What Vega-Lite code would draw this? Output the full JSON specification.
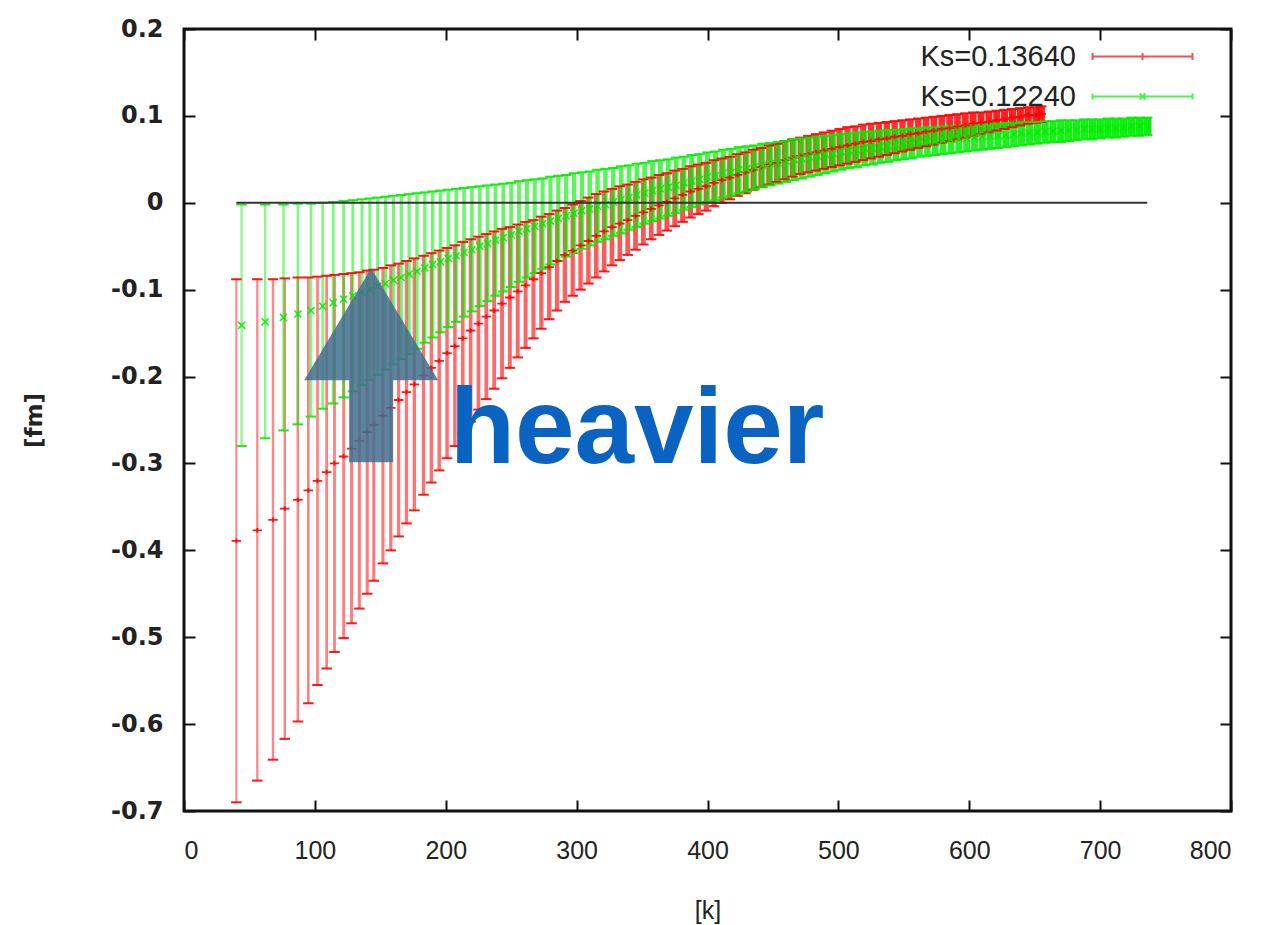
{
"$schema": "https://vega.github.io/schema/vega-lite/v6.json",
"width": 1047, "height": 782,
"autosize": {"type": "none"},
"padding": {"left": 184, "top": 29, "right": 37, "bottom": 114},
"background": "white",
"config": {
  "view": {"stroke": "#111", "strokeWidth": 3},
  "axis": {"grid": false, "domain": false, "tickColor": "#111", "tickWidth": 2, "tickSize": -11, "labelColor": "#222", "titleColor": "#222"}
},
"datasets": {
"pts": [
{"s":"Ks=0.13640","k":40,"v":-0.389,"lo":-0.69,"hi":-0.088},
{"s":"Ks=0.13640","k":56,"v":-0.377,"lo":-0.665,"hi":-0.088},
{"s":"Ks=0.13640","k":68,"v":-0.365,"lo":-0.641,"hi":-0.088},
{"s":"Ks=0.13640","k":77,"v":-0.352,"lo":-0.617,"hi":-0.087},
{"s":"Ks=0.13640","k":87,"v":-0.342,"lo":-0.597,"hi":-0.086},
{"s":"Ks=0.13640","k":95,"v":-0.331,"lo":-0.576,"hi":-0.086},
{"s":"Ks=0.13640","k":102,"v":-0.32,"lo":-0.555,"hi":-0.085},
{"s":"Ks=0.13640","k":109,"v":-0.31,"lo":-0.536,"hi":-0.084},
{"s":"Ks=0.13640","k":115,"v":-0.3,"lo":-0.517,"hi":-0.083},
{"s":"Ks=0.13640","k":122,"v":-0.292,"lo":-0.501,"hi":-0.082},
{"s":"Ks=0.13640","k":128,"v":-0.283,"lo":-0.484,"hi":-0.081},
{"s":"Ks=0.13640","k":134,"v":-0.274,"lo":-0.467,"hi":-0.08},
{"s":"Ks=0.13640","k":140,"v":-0.264,"lo":-0.45,"hi":-0.078},
{"s":"Ks=0.13640","k":145,"v":-0.256,"lo":-0.435,"hi":-0.077},
{"s":"Ks=0.13640","k":152,"v":-0.245,"lo":-0.415,"hi":-0.075},
{"s":"Ks=0.13640","k":158,"v":-0.236,"lo":-0.4,"hi":-0.072},
{"s":"Ks=0.13640","k":164,"v":-0.227,"lo":-0.384,"hi":-0.07},
{"s":"Ks=0.13640","k":170,"v":-0.218,"lo":-0.369,"hi":-0.067},
{"s":"Ks=0.13640","k":176,"v":-0.209,"lo":-0.354,"hi":-0.064},
{"s":"Ks=0.13640","k":183,"v":-0.199,"lo":-0.336,"hi":-0.061},
{"s":"Ks=0.13640","k":189,"v":-0.19,"lo":-0.322,"hi":-0.058},
{"s":"Ks=0.13640","k":195,"v":-0.182,"lo":-0.308,"hi":-0.055},
{"s":"Ks=0.13640","k":201,"v":-0.173,"lo":-0.294,"hi":-0.052},
{"s":"Ks=0.13640","k":207,"v":-0.165,"lo":-0.28,"hi":-0.049},
{"s":"Ks=0.13640","k":213,"v":-0.156,"lo":-0.266,"hi":-0.045},
{"s":"Ks=0.13640","k":219,"v":-0.147,"lo":-0.252,"hi":-0.042},
{"s":"Ks=0.13640","k":225,"v":-0.139,"lo":-0.238,"hi":-0.039},
{"s":"Ks=0.13640","k":231,"v":-0.131,"lo":-0.226,"hi":-0.036},
{"s":"Ks=0.13640","k":237,"v":-0.124,"lo":-0.214,"hi":-0.033},
{"s":"Ks=0.13640","k":243,"v":-0.116,"lo":-0.202,"hi":-0.03},
{"s":"Ks=0.13640","k":249,"v":-0.109,"lo":-0.19,"hi":-0.028},
{"s":"Ks=0.13640","k":255,"v":-0.102,"lo":-0.178,"hi":-0.025},
{"s":"Ks=0.13640","k":261,"v":-0.095,"lo":-0.167,"hi":-0.022},
{"s":"Ks=0.13640","k":267,"v":-0.088,"lo":-0.156,"hi":-0.02},
{"s":"Ks=0.13640","k":273,"v":-0.081,"lo":-0.145,"hi":-0.016},
{"s":"Ks=0.13640","k":279,"v":-0.074,"lo":-0.134,"hi":-0.013},
{"s":"Ks=0.13640","k":285,"v":-0.067,"lo":-0.124,"hi":-0.009},
{"s":"Ks=0.13640","k":291,"v":-0.06,"lo":-0.114,"hi":-0.006},
{"s":"Ks=0.13640","k":297,"v":-0.055,"lo":-0.107,"hi":-0.002},
{"s":"Ks=0.13640","k":303,"v":-0.049,"lo":-0.1,"hi":0.002},
{"s":"Ks=0.13640","k":309,"v":-0.044,"lo":-0.093,"hi":0.006},
{"s":"Ks=0.13640","k":315,"v":-0.038,"lo":-0.086,"hi":0.01},
{"s":"Ks=0.13640","k":321,"v":-0.033,"lo":-0.079,"hi":0.013},
{"s":"Ks=0.13640","k":327,"v":-0.028,"lo":-0.072,"hi":0.016},
{"s":"Ks=0.13640","k":333,"v":-0.024,"lo":-0.066,"hi":0.019},
{"s":"Ks=0.13640","k":339,"v":-0.02,"lo":-0.06,"hi":0.021},
{"s":"Ks=0.13640","k":345,"v":-0.015,"lo":-0.054,"hi":0.024},
{"s":"Ks=0.13640","k":351,"v":-0.011,"lo":-0.048,"hi":0.027},
{"s":"Ks=0.13640","k":357,"v":-0.007,"lo":-0.042,"hi":0.029},
{"s":"Ks=0.13640","k":363,"v":-0.003,"lo":-0.037,"hi":0.032},
{"s":"Ks=0.13640","k":369,"v":0.001,"lo":-0.032,"hi":0.034},
{"s":"Ks=0.13640","k":375,"v":0.005,"lo":-0.027,"hi":0.037},
{"s":"Ks=0.13640","k":381,"v":0.009,"lo":-0.022,"hi":0.039},
{"s":"Ks=0.13640","k":387,"v":0.013,"lo":-0.017,"hi":0.042},
{"s":"Ks=0.13640","k":393,"v":0.016,"lo":-0.013,"hi":0.044},
{"s":"Ks=0.13640","k":399,"v":0.019,"lo":-0.009,"hi":0.046},
{"s":"Ks=0.13640","k":405,"v":0.023,"lo":-0.004,"hi":0.049},
{"s":"Ks=0.13640","k":411,"v":0.026,"lo":0.0,"hi":0.051},
{"s":"Ks=0.13640","k":417,"v":0.029,"lo":0.004,"hi":0.053},
{"s":"Ks=0.13640","k":423,"v":0.032,"lo":0.008,"hi":0.056},
{"s":"Ks=0.13640","k":429,"v":0.035,"lo":0.011,"hi":0.058},
{"s":"Ks=0.13640","k":435,"v":0.038,"lo":0.015,"hi":0.061},
{"s":"Ks=0.13640","k":441,"v":0.041,"lo":0.018,"hi":0.063},
{"s":"Ks=0.13640","k":447,"v":0.044,"lo":0.021,"hi":0.066},
{"s":"Ks=0.13640","k":453,"v":0.046,"lo":0.024,"hi":0.068},
{"s":"Ks=0.13640","k":459,"v":0.049,"lo":0.027,"hi":0.071},
{"s":"Ks=0.13640","k":465,"v":0.052,"lo":0.03,"hi":0.073},
{"s":"Ks=0.13640","k":471,"v":0.054,"lo":0.033,"hi":0.075},
{"s":"Ks=0.13640","k":477,"v":0.056,"lo":0.035,"hi":0.077},
{"s":"Ks=0.13640","k":483,"v":0.058,"lo":0.037,"hi":0.079},
{"s":"Ks=0.13640","k":489,"v":0.06,"lo":0.039,"hi":0.081},
{"s":"Ks=0.13640","k":495,"v":0.062,"lo":0.041,"hi":0.083},
{"s":"Ks=0.13640","k":501,"v":0.064,"lo":0.043,"hi":0.085},
{"s":"Ks=0.13640","k":507,"v":0.066,"lo":0.045,"hi":0.087},
{"s":"Ks=0.13640","k":513,"v":0.068,"lo":0.047,"hi":0.088},
{"s":"Ks=0.13640","k":519,"v":0.07,"lo":0.049,"hi":0.09},
{"s":"Ks=0.13640","k":525,"v":0.071,"lo":0.051,"hi":0.091},
{"s":"Ks=0.13640","k":531,"v":0.073,"lo":0.053,"hi":0.092},
{"s":"Ks=0.13640","k":537,"v":0.074,"lo":0.055,"hi":0.093},
{"s":"Ks=0.13640","k":543,"v":0.076,"lo":0.057,"hi":0.094},
{"s":"Ks=0.13640","k":549,"v":0.077,"lo":0.059,"hi":0.095},
{"s":"Ks=0.13640","k":555,"v":0.079,"lo":0.061,"hi":0.096},
{"s":"Ks=0.13640","k":561,"v":0.08,"lo":0.063,"hi":0.097},
{"s":"Ks=0.13640","k":567,"v":0.082,"lo":0.065,"hi":0.098},
{"s":"Ks=0.13640","k":573,"v":0.083,"lo":0.067,"hi":0.099},
{"s":"Ks=0.13640","k":579,"v":0.085,"lo":0.069,"hi":0.1},
{"s":"Ks=0.13640","k":585,"v":0.086,"lo":0.071,"hi":0.101},
{"s":"Ks=0.13640","k":591,"v":0.088,"lo":0.073,"hi":0.102},
{"s":"Ks=0.13640","k":597,"v":0.089,"lo":0.075,"hi":0.103},
{"s":"Ks=0.13640","k":603,"v":0.091,"lo":0.077,"hi":0.104},
{"s":"Ks=0.13640","k":609,"v":0.092,"lo":0.079,"hi":0.104},
{"s":"Ks=0.13640","k":615,"v":0.093,"lo":0.081,"hi":0.105},
{"s":"Ks=0.13640","k":621,"v":0.095,"lo":0.083,"hi":0.106},
{"s":"Ks=0.13640","k":627,"v":0.096,"lo":0.085,"hi":0.107},
{"s":"Ks=0.13640","k":633,"v":0.098,"lo":0.087,"hi":0.108},
{"s":"Ks=0.13640","k":639,"v":0.099,"lo":0.089,"hi":0.109},
{"s":"Ks=0.13640","k":645,"v":0.101,"lo":0.091,"hi":0.11},
{"s":"Ks=0.13640","k":651,"v":0.101,"lo":0.092,"hi":0.11},
{"s":"Ks=0.13640","k":655,"v":0.102,"lo":0.093,"hi":0.111},
{"s":"Ks=0.12240","k":44,"v":-0.141,"lo":-0.28,"hi":-0.002},
{"s":"Ks=0.12240","k":62,"v":-0.137,"lo":-0.271,"hi":-0.002},
{"s":"Ks=0.12240","k":76,"v":-0.132,"lo":-0.262,"hi":-0.002},
{"s":"Ks=0.12240","k":87,"v":-0.128,"lo":-0.255,"hi":-0.001},
{"s":"Ks=0.12240","k":97,"v":-0.124,"lo":-0.246,"hi":-0.001},
{"s":"Ks=0.12240","k":106,"v":-0.119,"lo":-0.237,"hi":0.0},
{"s":"Ks=0.12240","k":114,"v":-0.115,"lo":-0.231,"hi":0.001},
{"s":"Ks=0.12240","k":122,"v":-0.111,"lo":-0.224,"hi":0.002},
{"s":"Ks=0.12240","k":129,"v":-0.107,"lo":-0.217,"hi":0.003},
{"s":"Ks=0.12240","k":136,"v":-0.103,"lo":-0.21,"hi":0.004},
{"s":"Ks=0.12240","k":142,"v":-0.1,"lo":-0.204,"hi":0.005},
{"s":"Ks=0.12240","k":148,"v":-0.096,"lo":-0.198,"hi":0.006},
{"s":"Ks=0.12240","k":154,"v":-0.093,"lo":-0.192,"hi":0.007},
{"s":"Ks=0.12240","k":160,"v":-0.089,"lo":-0.186,"hi":0.008},
{"s":"Ks=0.12240","k":166,"v":-0.086,"lo":-0.18,"hi":0.009},
{"s":"Ks=0.12240","k":172,"v":-0.082,"lo":-0.174,"hi":0.01},
{"s":"Ks=0.12240","k":178,"v":-0.079,"lo":-0.168,"hi":0.011},
{"s":"Ks=0.12240","k":184,"v":-0.075,"lo":-0.161,"hi":0.012},
{"s":"Ks=0.12240","k":190,"v":-0.071,"lo":-0.155,"hi":0.013},
{"s":"Ks=0.12240","k":196,"v":-0.068,"lo":-0.149,"hi":0.014},
{"s":"Ks=0.12240","k":202,"v":-0.064,"lo":-0.143,"hi":0.015},
{"s":"Ks=0.12240","k":208,"v":-0.061,"lo":-0.137,"hi":0.016},
{"s":"Ks=0.12240","k":214,"v":-0.057,"lo":-0.131,"hi":0.017},
{"s":"Ks=0.12240","k":220,"v":-0.054,"lo":-0.125,"hi":0.018},
{"s":"Ks=0.12240","k":226,"v":-0.05,"lo":-0.119,"hi":0.019},
{"s":"Ks=0.12240","k":232,"v":-0.047,"lo":-0.113,"hi":0.02},
{"s":"Ks=0.12240","k":238,"v":-0.043,"lo":-0.107,"hi":0.021},
{"s":"Ks=0.12240","k":244,"v":-0.04,"lo":-0.102,"hi":0.022},
{"s":"Ks=0.12240","k":250,"v":-0.037,"lo":-0.097,"hi":0.023},
{"s":"Ks=0.12240","k":256,"v":-0.033,"lo":-0.091,"hi":0.025},
{"s":"Ks=0.12240","k":262,"v":-0.03,"lo":-0.086,"hi":0.026},
{"s":"Ks=0.12240","k":268,"v":-0.027,"lo":-0.081,"hi":0.027},
{"s":"Ks=0.12240","k":274,"v":-0.024,"lo":-0.076,"hi":0.028},
{"s":"Ks=0.12240","k":280,"v":-0.021,"lo":-0.071,"hi":0.03},
{"s":"Ks=0.12240","k":286,"v":-0.018,"lo":-0.067,"hi":0.031},
{"s":"Ks=0.12240","k":292,"v":-0.015,"lo":-0.062,"hi":0.032},
{"s":"Ks=0.12240","k":298,"v":-0.012,"lo":-0.058,"hi":0.034},
{"s":"Ks=0.12240","k":304,"v":-0.009,"lo":-0.053,"hi":0.035},
{"s":"Ks=0.12240","k":310,"v":-0.007,"lo":-0.049,"hi":0.036},
{"s":"Ks=0.12240","k":316,"v":-0.004,"lo":-0.045,"hi":0.038},
{"s":"Ks=0.12240","k":322,"v":-0.002,"lo":-0.042,"hi":0.039},
{"s":"Ks=0.12240","k":328,"v":0.001,"lo":-0.038,"hi":0.04},
{"s":"Ks=0.12240","k":334,"v":0.004,"lo":-0.035,"hi":0.042},
{"s":"Ks=0.12240","k":340,"v":0.006,"lo":-0.031,"hi":0.043},
{"s":"Ks=0.12240","k":346,"v":0.009,"lo":-0.028,"hi":0.045},
{"s":"Ks=0.12240","k":352,"v":0.011,"lo":-0.024,"hi":0.046},
{"s":"Ks=0.12240","k":358,"v":0.014,"lo":-0.021,"hi":0.048},
{"s":"Ks=0.12240","k":364,"v":0.016,"lo":-0.018,"hi":0.049},
{"s":"Ks=0.12240","k":370,"v":0.018,"lo":-0.015,"hi":0.05},
{"s":"Ks=0.12240","k":376,"v":0.02,"lo":-0.012,"hi":0.052},
{"s":"Ks=0.12240","k":382,"v":0.023,"lo":-0.008,"hi":0.053},
{"s":"Ks=0.12240","k":388,"v":0.025,"lo":-0.005,"hi":0.055},
{"s":"Ks=0.12240","k":394,"v":0.027,"lo":-0.002,"hi":0.056},
{"s":"Ks=0.12240","k":400,"v":0.03,"lo":0.001,"hi":0.058},
{"s":"Ks=0.12240","k":406,"v":0.031,"lo":0.003,"hi":0.059},
{"s":"Ks=0.12240","k":412,"v":0.034,"lo":0.006,"hi":0.061},
{"s":"Ks=0.12240","k":418,"v":0.035,"lo":0.008,"hi":0.062},
{"s":"Ks=0.12240","k":424,"v":0.038,"lo":0.011,"hi":0.064},
{"s":"Ks=0.12240","k":430,"v":0.039,"lo":0.013,"hi":0.065},
{"s":"Ks=0.12240","k":436,"v":0.041,"lo":0.016,"hi":0.066},
{"s":"Ks=0.12240","k":442,"v":0.043,"lo":0.018,"hi":0.068},
{"s":"Ks=0.12240","k":448,"v":0.045,"lo":0.02,"hi":0.069},
{"s":"Ks=0.12240","k":454,"v":0.046,"lo":0.022,"hi":0.07},
{"s":"Ks=0.12240","k":460,"v":0.048,"lo":0.024,"hi":0.071},
{"s":"Ks=0.12240","k":466,"v":0.05,"lo":0.026,"hi":0.073},
{"s":"Ks=0.12240","k":472,"v":0.051,"lo":0.028,"hi":0.074},
{"s":"Ks=0.12240","k":478,"v":0.053,"lo":0.03,"hi":0.075},
{"s":"Ks=0.12240","k":484,"v":0.054,"lo":0.032,"hi":0.076},
{"s":"Ks=0.12240","k":490,"v":0.056,"lo":0.034,"hi":0.077},
{"s":"Ks=0.12240","k":496,"v":0.057,"lo":0.036,"hi":0.078},
{"s":"Ks=0.12240","k":502,"v":0.059,"lo":0.038,"hi":0.079},
{"s":"Ks=0.12240","k":508,"v":0.06,"lo":0.04,"hi":0.08},
{"s":"Ks=0.12240","k":514,"v":0.061,"lo":0.041,"hi":0.081},
{"s":"Ks=0.12240","k":520,"v":0.063,"lo":0.043,"hi":0.082},
{"s":"Ks=0.12240","k":526,"v":0.063,"lo":0.044,"hi":0.082},
{"s":"Ks=0.12240","k":532,"v":0.065,"lo":0.046,"hi":0.083},
{"s":"Ks=0.12240","k":538,"v":0.066,"lo":0.047,"hi":0.084},
{"s":"Ks=0.12240","k":544,"v":0.067,"lo":0.049,"hi":0.084},
{"s":"Ks=0.12240","k":550,"v":0.068,"lo":0.05,"hi":0.085},
{"s":"Ks=0.12240","k":556,"v":0.069,"lo":0.051,"hi":0.086},
{"s":"Ks=0.12240","k":562,"v":0.07,"lo":0.053,"hi":0.086},
{"s":"Ks=0.12240","k":568,"v":0.071,"lo":0.054,"hi":0.087},
{"s":"Ks=0.12240","k":574,"v":0.071,"lo":0.055,"hi":0.087},
{"s":"Ks=0.12240","k":580,"v":0.072,"lo":0.056,"hi":0.088},
{"s":"Ks=0.12240","k":586,"v":0.073,"lo":0.057,"hi":0.088},
{"s":"Ks=0.12240","k":592,"v":0.074,"lo":0.058,"hi":0.089},
{"s":"Ks=0.12240","k":598,"v":0.074,"lo":0.059,"hi":0.089},
{"s":"Ks=0.12240","k":604,"v":0.075,"lo":0.06,"hi":0.09},
{"s":"Ks=0.12240","k":610,"v":0.076,"lo":0.061,"hi":0.09},
{"s":"Ks=0.12240","k":616,"v":0.077,"lo":0.062,"hi":0.091},
{"s":"Ks=0.12240","k":622,"v":0.077,"lo":0.063,"hi":0.091},
{"s":"Ks=0.12240","k":628,"v":0.078,"lo":0.064,"hi":0.092},
{"s":"Ks=0.12240","k":634,"v":0.079,"lo":0.065,"hi":0.092},
{"s":"Ks=0.12240","k":640,"v":0.08,"lo":0.066,"hi":0.093},
{"s":"Ks=0.12240","k":646,"v":0.08,"lo":0.067,"hi":0.093},
{"s":"Ks=0.12240","k":652,"v":0.081,"lo":0.068,"hi":0.093},
{"s":"Ks=0.12240","k":658,"v":0.082,"lo":0.069,"hi":0.094},
{"s":"Ks=0.12240","k":664,"v":0.082,"lo":0.07,"hi":0.094},
{"s":"Ks=0.12240","k":670,"v":0.083,"lo":0.07,"hi":0.095},
{"s":"Ks=0.12240","k":676,"v":0.083,"lo":0.071,"hi":0.095},
{"s":"Ks=0.12240","k":682,"v":0.084,"lo":0.072,"hi":0.095},
{"s":"Ks=0.12240","k":688,"v":0.085,"lo":0.073,"hi":0.096},
{"s":"Ks=0.12240","k":694,"v":0.085,"lo":0.073,"hi":0.096},
{"s":"Ks=0.12240","k":700,"v":0.085,"lo":0.074,"hi":0.096},
{"s":"Ks=0.12240","k":706,"v":0.086,"lo":0.075,"hi":0.097},
{"s":"Ks=0.12240","k":712,"v":0.086,"lo":0.075,"hi":0.097},
{"s":"Ks=0.12240","k":718,"v":0.087,"lo":0.076,"hi":0.097},
{"s":"Ks=0.12240","k":724,"v":0.088,"lo":0.077,"hi":0.098},
{"s":"Ks=0.12240","k":730,"v":0.088,"lo":0.077,"hi":0.098},
{"s":"Ks=0.12240","k":736,"v":0.088,"lo":0.078,"hi":0.098}
],
"notes": [{"label": "heavier"}]
},
"layer": [
  {
    "data": {"name": "pts"},
    "mark": {"type": "rule"},
    "encoding": {
      "x": {"field": "k", "type": "quantitative",
        "scale": {"domain": [0, 800], "nice": false, "zero": false},
        "axis": {"orient": "bottom", "values": [0,100,200,300,400,500,600,700,800],
          "labelFont": "Liberation Sans", "labelFontSize": 25, "labelPadding": 38,
          "title": "[k]", "titleFont": "Liberation Sans", "titleFontSize": 25, "titleFontWeight": "normal",
          "titleY": 99, "titleBaseline": "middle"}},
      "y": {"field": "lo", "type": "quantitative",
        "scale": {"domain": [-0.7, 0.2], "nice": false, "zero": false},
        "axis": {"orient": "left", "values": [-0.7,-0.6,-0.5,-0.4,-0.3,-0.2,-0.1,0,0.1,0.2],
          "labelExpr": "datum.value == 0 ? '0' : '' + datum.value",
          "labelFont": "DejaVu Sans", "labelFontWeight": "bold", "labelFontSize": 24, "labelPadding": 32,
          "title": "[fm]", "titleFont": "DejaVu Sans", "titleFontWeight": "bold", "titleFontSize": 23,
          "titleX": -150, "titleY": 391, "titleBaseline": "middle", "titleAlign": "center"}},
      "y2": {"field": "hi"},
      "strokeWidth": {"field": "k", "type": "quantitative", "legend": null,
        "scale": {"domain": [40, 740], "range": [2.2, 8]}},
      "opacity": {"field": "k", "type": "quantitative", "legend": null,
        "scale": {"domain": [40, 740], "range": [0.45, 0.95]}},
      "color": {"field": "s", "type": "nominal",
        "scale": {"domain": ["Ks=0.13640", "Ks=0.12240"], "range": ["#ff0000", "#00ee00"]},
        "legend": {"title": null, "orient": "none", "legendX": 944, "legendY": 13, "padding": 0,
          "symbolSize": 400, "symbolStrokeWidth": 2, "symbolOpacity": 0.7,
          "labelFont": "Liberation Sans", "labelFontSize": 29, "labelColor": "#222",
          "labelAlign": "right", "labelOffset": -81, "labelLimit": 400, "rowPadding": 10,
          "encode": {"symbols": {"update": {"shape": {"signal": "datum.value == 'Ks=0.13640' ? 'M-5,0L5,0M-5,-0.35L-5,0.35M5,-0.35L5,0.35M0,-0.35L0,0.35' : 'M-5,0L5,0M-5,-0.3L-5,0.3M5,-0.3L5,0.3M-0.3,-0.3L0.3,0.3M-0.3,0.3L0.3,-0.3'"}, "strokeWidth": {"value": 2}, "opacity": {"value": 0.7}}}}}}
    }
  },
  {
    "data": {"name": "pts"},
    "mark": {"type": "point", "shape": "M-1,0L1,0", "size": 110, "strokeWidth": 2, "filled": false, "opacity": 0.9},
    "encoding": {
      "x": {"field": "k", "type": "quantitative",
        "axis": {"orient": "top", "values": [0,100,200,300,400,500,600,700,800], "labels": false, "title": null}},
      "y": {"field": "lo", "type": "quantitative",
        "axis": {"orient": "right", "values": [-0.7,-0.6,-0.5,-0.4,-0.3,-0.2,-0.1,0,0.1,0.2], "labels": false, "title": null}},
      "color": {"field": "s", "type": "nominal", "legend": null}
    }
  },
  {
    "data": {"name": "pts"},
    "mark": {"type": "point", "shape": "M-1,0L1,0", "size": 110, "strokeWidth": 2, "filled": false, "opacity": 0.9},
    "encoding": {
      "x": {"field": "k", "type": "quantitative", "axis": null},
      "y": {"field": "hi", "type": "quantitative", "axis": null},
      "color": {"field": "s", "type": "nominal", "legend": null}
    }
  },
  {
    "data": {"name": "pts"},
    "transform": [{"filter": "datum.s == 'Ks=0.13640'"}],
    "mark": {"type": "point", "shape": "M-1,0L1,0M0,-0.5L0,0.5", "size": 90, "strokeWidth": 1.8, "filled": false, "opacity": 0.9},
    "encoding": {
      "x": {"field": "k", "type": "quantitative", "axis": null},
      "y": {"field": "v", "type": "quantitative", "axis": null},
      "color": {"field": "s", "type": "nominal", "legend": null}
    }
  },
  {
    "data": {"name": "pts"},
    "transform": [{"filter": "datum.s == 'Ks=0.12240'"}],
    "mark": {"type": "point", "shape": "M-1,-1L1,1M-1,1L1,-1", "size": 50, "strokeWidth": 1.6, "filled": false, "opacity": 0.9},
    "encoding": {
      "x": {"field": "k", "type": "quantitative", "axis": null},
      "y": {"field": "v", "type": "quantitative", "axis": null},
      "color": {"field": "s", "type": "nominal", "legend": null}
    }
  },
  {
    "data": {"name": "notes"},
    "mark": {"type": "rule", "color": "#333", "strokeWidth": 2},
    "encoding": {
      "x": {"datum": 40, "type": "quantitative", "axis": null},
      "x2": {"datum": 736},
      "y": {"datum": 0, "type": "quantitative", "axis": null}
    }
  },
  {
    "data": {"name": "notes"},
    "mark": {"type": "point", "shape": "M0,-9.7L6.7,1.5L2.2,1.5L2.2,9.7L-2.2,9.7L-2.2,1.5L-6.7,1.5Z", "size": 400, "filled": true, "color": "#41708f", "opacity": 0.86},
    "encoding": {
      "x": {"datum": 143, "type": "quantitative", "axis": null},
      "y": {"datum": -0.187, "type": "quantitative", "axis": null}
    }
  },
  {
    "data": {"name": "notes"},
    "mark": {"type": "text", "align": "left", "baseline": "alphabetic", "font": "Liberation Sans", "fontWeight": "bold", "fontSize": 107, "color": "#0b63c1"},
    "encoding": {
      "text": {"field": "label"},
      "x": {"datum": 203, "type": "quantitative", "axis": null},
      "y": {"datum": -0.299, "type": "quantitative", "axis": null}
    }
  }
]
}
